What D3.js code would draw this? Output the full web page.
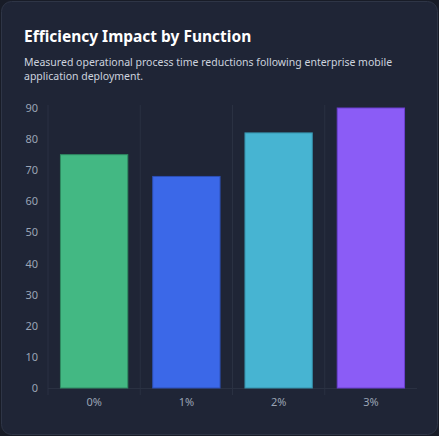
<!DOCTYPE html>
<html><head><meta charset="utf-8">
<script src="https://cdn.jsdelivr.net/npm/d3@7"></script>
<style>
html,body{margin:0;padding:0;background:#181c27;}
svg{display:block;font-family:"Segoe UI","Noto Sans",sans-serif;}
</style></head><body>
<svg id="c" width="439" height="436"></svg>
<script>
const categories = ["0%","1%","2%","3%"];
const values = [75, 68, 82, 90];
const colors = ["#43b883","#3b68e8","#47b4d2","#8b5cf6"];
const strokes = ["#2f8a61","#2c4fb5","#3590aa","#6b3fd0"];
const yTicks = [0,10,20,30,40,50,60,70,80,90];

const svg = d3.select("#c");
svg.append("rect").attr("x",1.5).attr("y",1.5).attr("width",436).attr("height",433)
  .attr("rx",10).attr("fill","#1f2536").attr("stroke","#2e3546");
svg.append("text").attr("x",24).attr("y",42).attr("fill","#ffffff")
  .attr("font-size",15.5).attr("font-weight",700).text("Efficiency Impact by Function");
const sub = svg.append("text").attr("fill","#cdd3de").attr("font-size",10.5);
sub.append("tspan").attr("x",24).attr("y",66).text("Measured operational process time reductions following enterprise mobile");
sub.append("tspan").attr("x",24).attr("y",80).text("application deployment.");

const x = d3.scaleBand().domain(categories).range([48,417]).paddingInner(0.27).paddingOuter(0.135);
const y = d3.scaleLinear().domain([0,90]).range([388,108]);
const g = svg.append("g");
// vertical grid lines at band boundaries
const step = x.step();
const bounds = categories.map((c,i)=>48+i*step).concat([417]);
g.selectAll("line.v").data(bounds.slice(0,4)).join("line")
  .attr("x1",d=>d).attr("x2",d=>d).attr("y1",105).attr("y2",395)
  .attr("stroke","#2a3142");
g.append("line").attr("x1",48).attr("x2",417).attr("y1",388.5).attr("y2",388.5).attr("stroke","#2a3142");

g.selectAll("rect.bar").data(values).join("rect")
  .attr("x",(d,i)=>x(categories[i])).attr("width",x.bandwidth())
  .attr("y",d=>y(d)).attr("height",d=>388-y(d))
  .attr("fill",(d,i)=>colors[i]).attr("stroke",(d,i)=>strokes[i]).attr("stroke-width",1);

const ya = d3.axisLeft(y).tickValues(yTicks).tickSize(0).tickPadding(0);
svg.append("g").attr("transform","translate(38,0)").call(ya)
  .call(s=>s.select(".domain").remove())
  .selectAll("text").attr("fill","#9aa4b5").attr("font-size",11).attr("font-family","Segoe UI, Noto Sans, sans-serif");
const xa = d3.axisBottom(x).tickSize(0).tickPadding(0);
svg.append("g").attr("transform","translate(0,398)").call(xa)
  .call(s=>s.select(".domain").remove())
  .selectAll("text").attr("fill","#9aa4b5").attr("font-size",11).attr("font-family","Segoe UI, Noto Sans, sans-serif");
</script></body></html>
